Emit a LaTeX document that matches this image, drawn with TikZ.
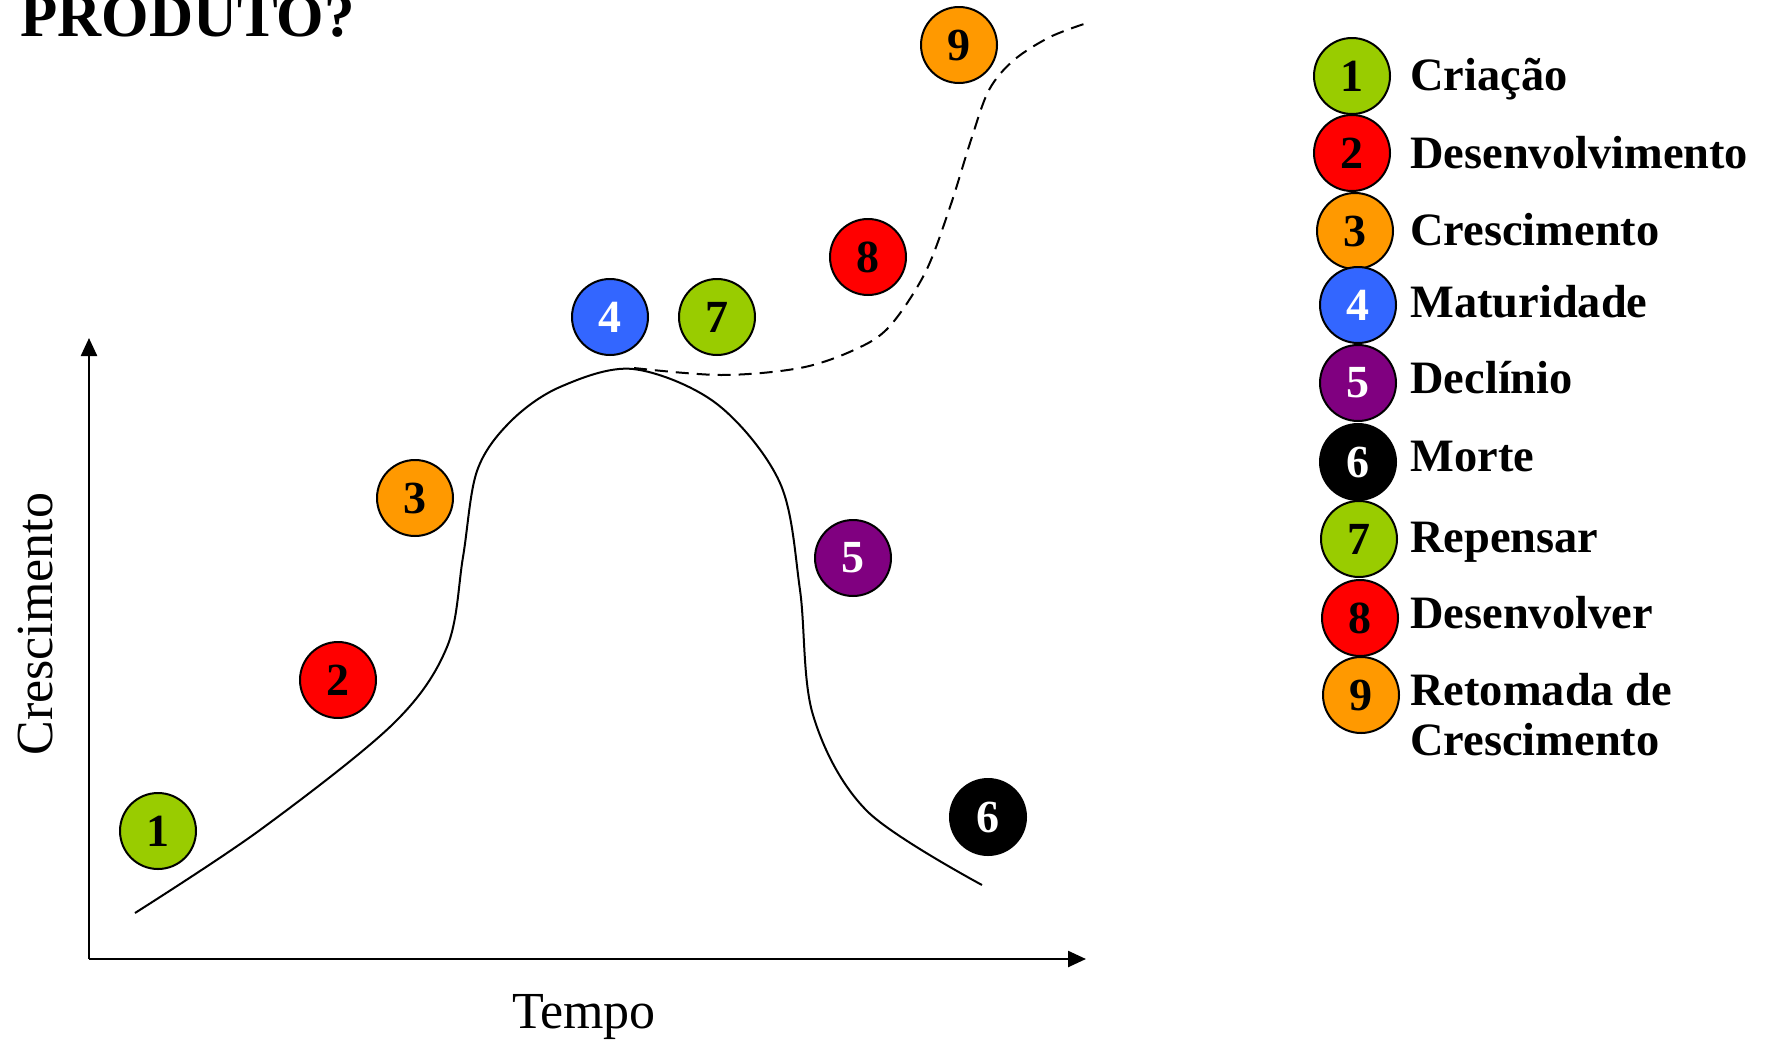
\documentclass[tikz,border=0pt]{standalone}
\usepackage{fontspec}
\setmainfont{Liberation Serif}
\usetikzlibrary{arrows.meta}
\definecolor{stgreen}{HTML}{99CC00}
\definecolor{stred}{HTML}{FF0000}
\definecolor{storange}{HTML}{FF9900}
\definecolor{stblue}{HTML}{3366FF}
\definecolor{stpurple}{HTML}{800080}
\begin{document}
\begin{tikzpicture}[x=0.5pt,y=-0.5pt,
  stage/.style={circle,draw=black,line width=1pt,minimum size=38pt,inner sep=0pt,
    font=\fontsize{23}{23}\selectfont\bfseries},
  green/.style={stage,fill=stgreen,text=black},
  red/.style={stage,fill=stred,text=black},
  orange/.style={stage,fill=storange,text=black},
  blue/.style={stage,fill=stblue,text=white},
  purple/.style={stage,fill=stpurple,text=white},
  dark/.style={stage,fill=black,text=white},
  legtext/.style={anchor=base west,inner sep=0pt,font=\fontsize{23.2}{25}\selectfont\bfseries},
  axislabel/.style={anchor=base,inner sep=0pt,font=\fontsize{26}{26}\selectfont},
  axisline/.style={line width=1.2pt,-{Triangle[length=9pt,width=8pt]}},
  lifecurve/.style={line width=1pt}
]
\useasboundingbox (0,0) rectangle (1767,1039);
\clip (0,0) rectangle (1767,1039);

% title (cut at the top edge)
\node[anchor=base west,inner sep=0pt,font=\fontsize{30.5}{30.5}\selectfont\bfseries] (title) at (20,36) {PRODUTO?};

% axes
\coordinate (O) at (89,959);
\coordinate (ytip) at (89,338);
\coordinate (xtip) at (1086,959);
\draw[axisline] (O) -- (ytip);
\draw[axisline] (O) -- (xtip);
\node[axislabel] (tempo) at (584,1028) {Tempo};
\node[axislabel,rotate=90] (cresc) at (52,624) {Crescimento};

% life cycle curve
\draw[lifecurve] plot[smooth,tension=0.55] coordinates {
  (135,913) (260,830) (393,724) (447,647) (463,557) (477,471) (510,422)
  (560,387) (633,369) (717,404) (780,483) (800,590) (813,715) (867,811) (982,885)};
% renewal path
\draw[lifecurve,dash pattern=on 6.5pt off 4pt] plot[smooth,tension=0.55] coordinates {
  (634,368) (721,375) (800,368) (854,350) (889,327) (925,273) (950,207)
  (971,140) (989,90) (1014,60) (1050,37) (1087,23)};

% stages on the chart
\node[green]  (s1) at (158,831) {1};
\node[red]    (s2) at (338,680) {2};
\node[orange] (s3) at (415,498) {3};
\node[blue]   (s4) at (610,317) {4};
\node[purple] (s5) at (853,558) {5};
\node[dark]   (s6) at (988,817) {6};
\node[green]  (s7) at (717,317) {7};
\node[red]    (s8) at (868,257) {8};
\node[orange] (s9) at (959,45)  {9};

% legend
\node[green]  (k1) at (1352,76)  {1};
\node[red]    (k2) at (1352,153) {2};
\node[orange] (k3) at (1355,231) {3};
\node[blue]   (k4) at (1358,305) {4};
\node[purple] (k5) at (1358,383) {5};
\node[dark]   (k6) at (1358,462) {6};
\node[green]  (k7) at (1359,539) {7};
\node[red]    (k8) at (1360,618) {8};
\node[orange] (k9) at (1361,695) {9};
\node[legtext] (t1) at (1410,90)  {Criação};
\node[legtext] (t2) at (1410,168) {Desenvolvimento};
\node[legtext] (t3) at (1410,245) {Crescimento};
\node[legtext] (t4) at (1410,317) {Maturidade};
\node[legtext] (t5) at (1410,393) {Declínio};
\node[legtext] (t6) at (1410,471) {Morte};
\node[legtext] (t7) at (1410,552) {Repensar};
\node[legtext] (t8) at (1410,628) {Desenvolver};
\node[legtext] (t9) at (1410,705) {Retomada de};
\node[legtext] (t9b) at (1410,755) {Crescimento};
\end{tikzpicture}
\end{document}
